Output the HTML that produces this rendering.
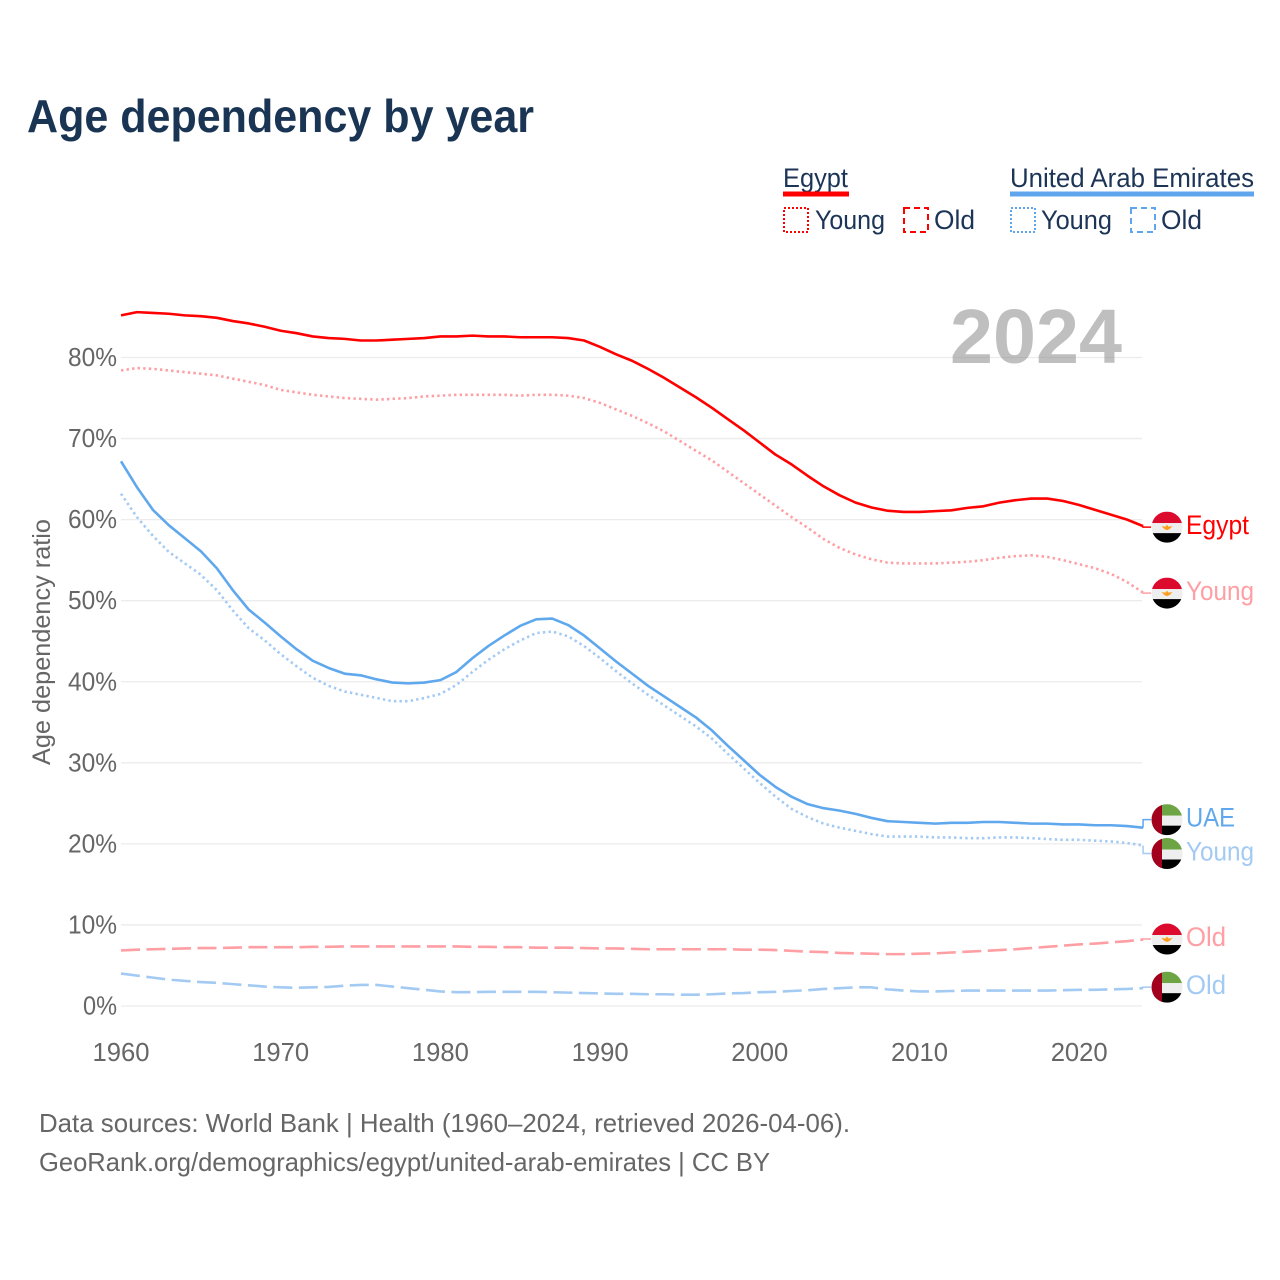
<!DOCTYPE html>
<html lang="en">
<head>
<meta charset="utf-8">
<title>Age dependency by year</title>
<style>
html,body{margin:0;padding:0;background:#fff;width:1280px;height:1280px;overflow:hidden}
svg{display:block}
text{font-family:"Liberation Sans",sans-serif}
</style>
</head>
<body>
<svg id="chart" xmlns="http://www.w3.org/2000/svg" width="1280" height="1280" viewBox="0 0 1280 1280">
  <rect x="0" y="0" width="1280" height="1280" fill="#fff"/>
  <text x="27" y="132" font-size="46" font-weight="700" fill="#1a3554" textLength="507" lengthAdjust="spacingAndGlyphs">Age dependency by year</text>

  <g>
    <text x="783" y="187" font-size="27" fill="#1c3557" textLength="65" lengthAdjust="spacingAndGlyphs">Egypt</text>
    <rect x="783" y="191.5" width="66" height="5" fill="#ff0000"/>
    <rect x="784" y="208" width="24" height="24" fill="none" stroke="#ff0000" stroke-width="2" stroke-dasharray="2 2"/>
    <text x="815" y="229" font-size="27" fill="#1c3557" textLength="70" lengthAdjust="spacingAndGlyphs">Young</text>
    <rect x="904" y="208" width="24" height="24" fill="none" stroke="#ff0000" stroke-width="2" stroke-dasharray="6 4"/>
    <text x="934" y="229" font-size="27" fill="#1c3557" textLength="41" lengthAdjust="spacingAndGlyphs">Old</text>
    <text x="1010" y="187" font-size="27" fill="#1c3557" textLength="244" lengthAdjust="spacingAndGlyphs">United Arab Emirates</text>
    <rect x="1010" y="191.5" width="244" height="5" fill="#5fa5ee"/>
    <rect x="1011" y="208" width="24" height="24" fill="none" stroke="#5fa5ee" stroke-width="2" stroke-dasharray="2 2"/>
    <text x="1041" y="229" font-size="27" fill="#1c3557" textLength="71" lengthAdjust="spacingAndGlyphs">Young</text>
    <rect x="1131" y="208" width="24" height="24" fill="none" stroke="#5fa5ee" stroke-width="2" stroke-dasharray="6 4"/>
    <text x="1161" y="229" font-size="27" fill="#1c3557" textLength="41" lengthAdjust="spacingAndGlyphs">Old</text>
  </g>

  <g id="grid"></g>
  <text x="950" y="363" font-size="77" font-weight="700" fill="#808080" fill-opacity="0.5" textLength="172" lengthAdjust="spacingAndGlyphs">2024</text>
  <g id="yticks"></g>
  <g id="xticks"></g>
  <text transform="translate(50,765) rotate(-90)" x="0" y="0" font-size="25" fill="#666666" textLength="246" lengthAdjust="spacingAndGlyphs">Age dependency ratio</text>
  <g id="series"></g>
  <g id="ends"></g>

  <text x="39" y="1132" font-size="26" fill="#666666" textLength="811" lengthAdjust="spacingAndGlyphs">Data sources: World Bank | Health (1960–2024, retrieved 2026-04-06).</text>
  <text x="39" y="1171" font-size="26" fill="#666666" textLength="731" lengthAdjust="spacingAndGlyphs">GeoRank.org/demographics/egypt/united-arab-emirates | CC BY</text>
</svg>
<script>
const startYear = 1960;
const yTicks = [0, 10, 20, 30, 40, 50, 60, 70, 80];
const xTicks = [1960, 1970, 1980, 1990, 2000, 2010, 2020];

const egyptTotal = [85.2,85.6,85.5,85.4,85.2,85.1,84.9,84.5,84.2,83.8,83.3,83.0,82.6,82.4,82.3,82.1,82.1,82.2,82.3,82.4,82.6,82.6,82.7,82.6,82.6,82.5,82.5,82.5,82.4,82.1,81.3,80.4,79.6,78.6,77.5,76.3,75.1,73.8,72.4,71.0,69.5,68.0,66.8,65.4,64.1,63.0,62.1,61.5,61.1,60.95,60.95,61.05,61.15,61.45,61.65,62.1,62.4,62.6,62.6,62.3,61.8,61.2,60.6,60.0,59.2];
const egyptYoung = [78.4,78.7,78.6,78.4,78.2,78.0,77.8,77.4,77.0,76.6,76.0,75.7,75.4,75.2,75.0,74.9,74.8,74.9,75.0,75.2,75.3,75.4,75.4,75.4,75.4,75.3,75.4,75.4,75.3,75.0,74.4,73.6,72.8,71.9,70.9,69.7,68.5,67.3,65.9,64.5,63.1,61.7,60.3,59.0,57.6,56.5,55.7,55.1,54.7,54.6,54.6,54.6,54.7,54.8,55.0,55.3,55.5,55.6,55.4,55.0,54.5,54.0,53.3,52.3,51.0];
const egyptOld = [6.85,6.95,7.0,7.05,7.1,7.15,7.15,7.2,7.25,7.25,7.25,7.25,7.3,7.3,7.35,7.35,7.35,7.35,7.35,7.35,7.35,7.35,7.3,7.3,7.25,7.25,7.2,7.2,7.2,7.15,7.1,7.1,7.05,7.0,7.0,7.0,7.0,7.0,7.0,6.95,6.95,6.9,6.8,6.7,6.65,6.55,6.5,6.45,6.4,6.4,6.45,6.5,6.6,6.7,6.8,6.9,7.0,7.15,7.3,7.45,7.6,7.7,7.85,8.0,8.2];
const uaeTotal = [67.2,64.0,61.2,59.3,57.7,56.1,54.0,51.3,48.9,47.3,45.6,44.0,42.6,41.7,41.0,40.8,40.3,39.9,39.8,39.9,40.2,41.2,42.9,44.4,45.7,46.9,47.7,47.8,47.0,45.7,44.1,42.5,41.0,39.5,38.2,36.9,35.6,34.0,32.1,30.3,28.5,27.0,25.8,24.9,24.4,24.1,23.7,23.2,22.8,22.7,22.6,22.5,22.6,22.6,22.7,22.7,22.6,22.5,22.5,22.4,22.4,22.3,22.3,22.2,22.0];
const uaeYoung = [63.2,60.3,58.0,56.0,54.6,53.2,51.3,48.8,46.6,45.1,43.4,41.9,40.5,39.5,38.8,38.4,38.0,37.6,37.6,38.0,38.5,39.6,41.2,42.7,44.0,45.1,46.0,46.2,45.6,44.4,42.9,41.3,39.8,38.4,37.1,35.8,34.5,33.0,31.1,29.3,27.5,25.8,24.3,23.3,22.5,22.0,21.6,21.2,20.9,20.9,20.9,20.8,20.8,20.7,20.7,20.8,20.8,20.7,20.6,20.5,20.5,20.4,20.3,20.1,19.8];
const uaeOld = [4.0,3.75,3.5,3.25,3.1,2.95,2.85,2.7,2.55,2.4,2.3,2.25,2.3,2.35,2.5,2.6,2.6,2.4,2.2,2.0,1.8,1.7,1.7,1.75,1.75,1.75,1.75,1.7,1.65,1.6,1.55,1.5,1.5,1.45,1.45,1.4,1.4,1.45,1.55,1.6,1.7,1.75,1.85,1.95,2.1,2.2,2.3,2.3,2.05,1.9,1.8,1.8,1.85,1.9,1.9,1.9,1.9,1.9,1.9,1.95,2.0,2.0,2.05,2.1,2.2];

const NS = 'http://www.w3.org/2000/svg';
const xScale = function (year) { return 121 + (year - startYear) * 15.97; };
const yScale = function (value) { return 1006 - value * 8.106; };

function make(tag, parent, attrs) {
  const el = document.createElementNS(NS, tag);
  Object.keys(attrs).forEach(function (k) { el.setAttribute(k, attrs[k]); });
  parent.appendChild(el);
  return el;
}

const gridGroup = document.getElementById('grid');
const yTickGroup = document.getElementById('yticks');
yTicks.forEach(function (v) {
  const line = make('line', gridGroup, { x1: 121, x2: 1142, y1: yScale(v), y2: yScale(v), stroke: '#ececec', 'stroke-width': 1.3 });
  
  
  const label = make('text', yTickGroup, { x: 117, y: yScale(v) + 8.5, 'font-size': 26, fill: '#666666', 'text-anchor': 'end', textLength: v === 0 ? 34 : 49, lengthAdjust: 'spacingAndGlyphs' });
  label.textContent = v + '%';
  
  
});

const xTickGroup = document.getElementById('xticks');
xTicks.forEach(function (year) {
  const label = make('text', xTickGroup, { x: xScale(year), y: 1061, 'font-size': 26, fill: '#666666', 'text-anchor': 'middle', textLength: 57, lengthAdjust: 'spacingAndGlyphs' });
  label.textContent = String(year);
  
  
});

function drawSeries(values, name, color, dash) {
  const d = values.map(function (v, i) {
    return (i ? 'L' : 'M') + xScale(startYear + i).toFixed(2) + ' ' + yScale(v).toFixed(2);
  }).join(' ');
  const path = make('path', document.getElementById('series'), { d: d, fill: 'none', stroke: color, 'stroke-width': 2.6, 'stroke-linejoin': 'round' });
  if (dash) { path.setAttribute('stroke-dasharray', dash); }
  
  
}

const RED = '#ff0000';
const RED_LIGHT = '#ff9ea3';
const BLUE = '#5fa8ee';
const BLUE_LIGHT = '#a3caf3';
const DOTS = '2.4 3.2';
const DASHES = '19 6.5';

drawSeries(egyptOld, 'line-egypt-old', RED_LIGHT, DASHES);
drawSeries(uaeOld, 'line-uae-old', BLUE_LIGHT, DASHES);
drawSeries(egyptYoung, 'line-egypt-young', RED_LIGHT, DOTS);
drawSeries(uaeYoung, 'line-uae-young', BLUE_LIGHT, DOTS);
drawSeries(egyptTotal, 'line-egypt-total', RED, null);
drawSeries(uaeTotal, 'line-uae-total', BLUE, null);

let clipCount = 0;
function drawFlag(parent, cx, cy, country, name) {
  const r = 15.5;
  clipCount += 1;
  const clipId = 'flag-clip-' + clipCount;
  const clip = make('clipPath', parent, { id: clipId });
  make('circle', clip, { cx: cx, cy: cy, r: r });
  const g = make('g', parent, { 'clip-path': 'url(#' + clipId + ')' });
  
  
  const top = country === 'egypt' ? '#dc0a2d' : '#6da544';
  make('rect', g, { x: cx - r, y: cy - r, width: 31, height: 11.5, fill: top });
  make('rect', g, { x: cx - r, y: cy - 4, width: 31, height: 10, fill: '#eeeeee' });
  make('rect', g, { x: cx - r, y: cy + 6, width: 31, height: 10, fill: '#000000' });
  if (country === 'egypt') {
    make('path', g, { d: 'M' + (cx - 5.5) + ' ' + (cy - 1) + ' L' + (cx - 1.5) + ' ' + (cy - 0.5) + ' L' + cx + ' ' + (cy - 2.5) + ' L' + (cx + 1.5) + ' ' + (cy - 0.5) + ' L' + (cx + 5.5) + ' ' + (cy - 1) + ' L' + (cx + 2.5) + ' ' + (cy + 2) + ' L' + cx + ' ' + (cy + 3) + ' L' + (cx - 2.5) + ' ' + (cy + 2) + ' Z', fill: '#ff9d1e' });
  } else {
    make('rect', g, { x: cx - r, y: cy - r, width: 10.5, height: 31, fill: '#a2001d' });
  }
}

function drawEnd(values, nudge, text, textWidth, color, country, key) {
  const ends = document.getElementById('ends');
  const lastX = xScale(startYear + values.length - 1);
  const lastY = yScale(values[values.length - 1]);
  const cy = lastY + nudge;
  const link = make('path', ends, { d: 'M' + lastX + ' ' + lastY + ' L' + lastX + ' ' + cy + ' L1151 ' + cy, fill: 'none', stroke: color, 'stroke-width': 1.5 });
  
  
  drawFlag(ends, 1167, cy, country, 'flag-' + key);
  const label = make('text', ends, { x: 1186, y: cy + 7, 'font-size': 27, fill: color, textLength: textWidth, lengthAdjust: 'spacingAndGlyphs' });
  label.textContent = text;
  
  
}

drawEnd(egyptTotal, 1, 'Egypt', 63, RED, 'egypt', 'egypt-total');
drawEnd(egyptYoung, 0.5, 'Young', 68, RED_LIGHT, 'egypt', 'egypt-young');
drawEnd(uaeTotal, -8, 'UAE', 49, BLUE, 'uae', 'uae-total');
drawEnd(uaeYoung, 8, 'Young', 68, BLUE_LIGHT, 'uae', 'uae-young');
drawEnd(egyptOld, -0.5, 'Old', 40, RED_LIGHT, 'egypt', 'egypt-old');
drawEnd(uaeOld, -1, 'Old', 40, BLUE_LIGHT, 'uae', 'uae-old');
</script>
</body>
</html>
